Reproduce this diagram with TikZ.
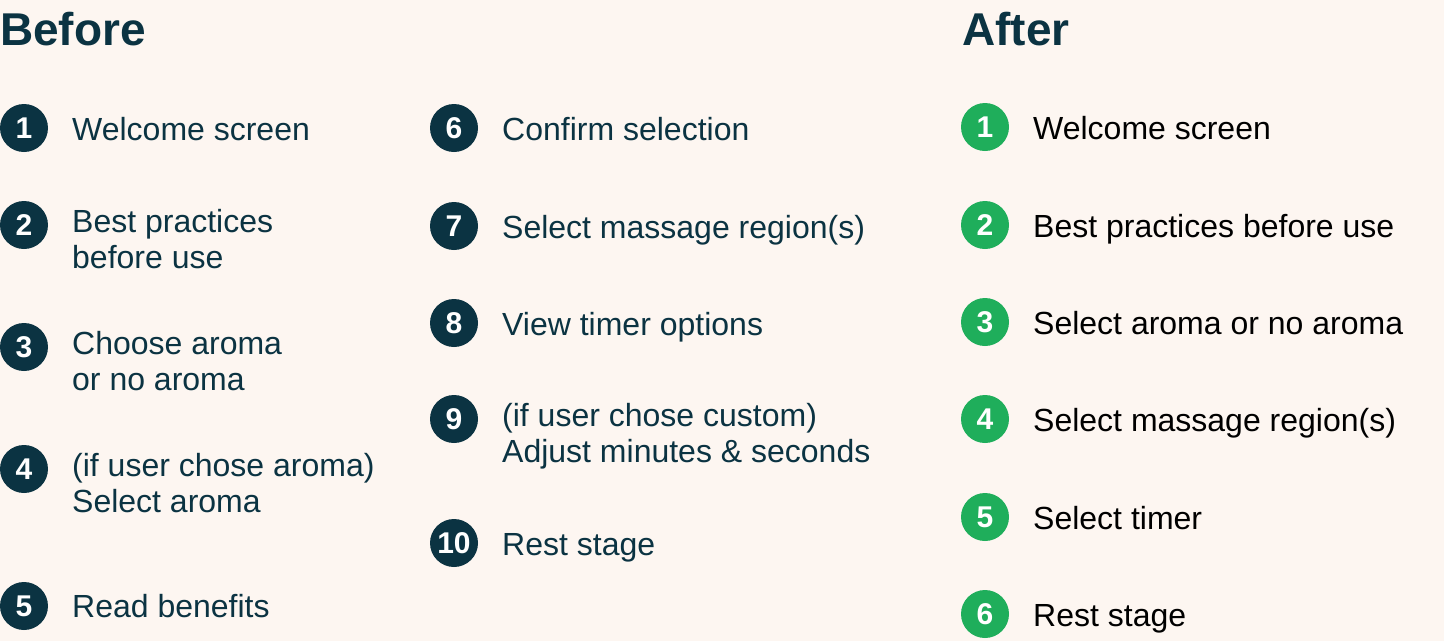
\documentclass[tikz,border=0pt]{standalone}
\usepackage{fontspec}
\setmainfont{Liberation Sans}
\definecolor{bg}{HTML}{FDF6F1}
\definecolor{navy}{HTML}{0B3342}
\definecolor{grn}{HTML}{1FAE5B}
\begin{document}
\begin{tikzpicture}[x=1pt,y=-1pt,
  numc/.style={circle,fill=#1,text=white,minimum size=48pt,inner sep=0pt,font=\fontsize{30}{30}\selectfont\bfseries},
  lbl/.style={anchor=base west,inner sep=0pt,text=#1,font=\fontsize{32}{36}\selectfont},
  head/.style={anchor=base west,inner sep=0pt,text=navy,font=\fontsize{46}{46}\selectfont\bfseries}]
\fill[bg] (0,0) rectangle (1444,641);
\useasboundingbox (0,0) rectangle (1444,641);
\node[head] (hb) at (0,45) {Before};
\node[head] (ha) at (962,45) {After};
\foreach \n/\y/\ly/\t/\u in {1/128/128/Welcome screen/{},2/225/220/Best practices/before use,3/347/342/Choose aroma/or no aroma,4/469/464/(if user chose aroma)/Select aroma,5/606/605/Read benefits/{}}{
  \node[numc=navy] (b\n) at (24,\y) {\n};
  \node[lbl=navy] (bt\n) at (72,\ly+12) {\t};
  \node[lbl=navy] (bu\n) at (72,\ly+48) {\u};
}
\foreach \n/\y/\ly/\t/\u in {6/128/128/Confirm selection/{},7/226/226/Select massage region(s)/{},8/323/323/View timer options/{},9/419/414/(if user chose custom)/Adjust minutes \& seconds,10/543/543/Rest stage/{}}{
  \node[numc=navy] (b\n) at (454,\y) {\n};
  \node[lbl=navy] (bt\n) at (502,\ly+12) {\t};
  \node[lbl=navy] (bu\n) at (502,\ly+48) {\u};
}
\foreach \n/\y/\t in {1/127/Welcome screen,2/225/Best practices before use,3/322/Select aroma or no aroma,4/419/Select massage region(s),5/517/Select timer,6/614/Rest stage}{
  \node[numc=grn] (a\n) at (985,\y) {\n};
  \node[lbl=black] (at\n) at (1033,\y+12) {\t};
}
\end{tikzpicture}
\end{document}
